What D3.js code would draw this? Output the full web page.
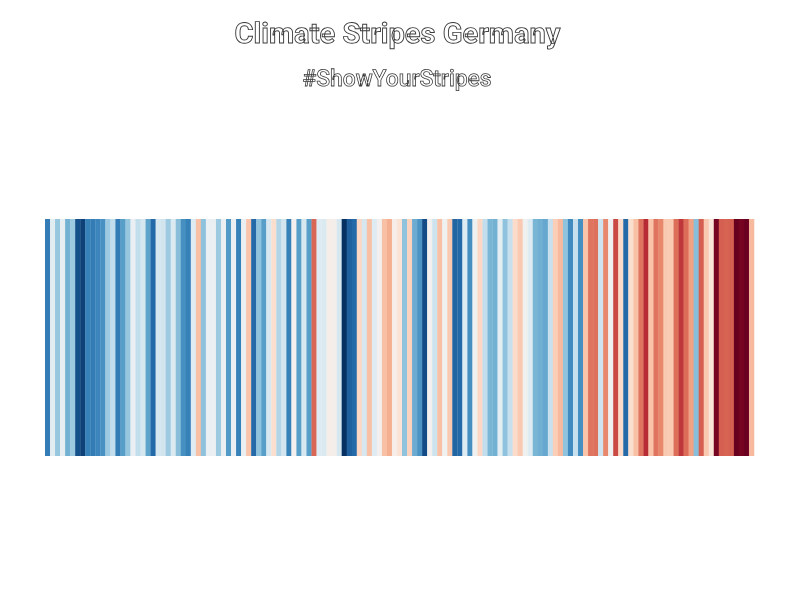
<!DOCTYPE html>
<html>
<head>
<meta charset="utf-8">
<script src="https://cdn.jsdelivr.net/npm/d3@7"></script>
<style>
  html, body { margin: 0; padding: 0; background: #ffffff; }
  svg { display: block; }
  text { text-rendering: geometricPrecision; }
</style>
</head>
<body>
<svg id="chart" width="800" height="600">
  <defs>
    <filter id="gray" x="0" y="0" width="1" height="1">
      <feComponentTransfer><feFuncA type="identity"/></feComponentTransfer>
    </filter>
  </defs>
</svg>
<script>
const titleText = "Climate Stripes Germany";
const subtitleText = "#ShowYourStripes";
const firstYear = 1881;
const lastYear = 2021;
const years = d3.range(firstYear, lastYear + 1);
// Annual mean temperature (°C), estimated from the stripe colours
const temps = [
  7.18, 8.35, 7.81, 8.40, 7.62, 7.85, 6.83, 6.72, 7.22, 7.18,
  7.26, 7.36, 7.85, 8.08, 7.18, 7.46, 7.81, 8.43, 8.08, 8.24,
  7.50, 7.03, 8.24, 8.20, 7.85, 8.28, 7.73, 7.34, 7.22, 8.32,
  9.13, 7.77, 8.43, 8.45, 7.85, 8.47, 7.42, 8.47, 7.22, 8.47,
  9.10, 7.03, 7.77, 7.46, 8.24, 8.86, 7.97, 8.20, 7.22, 8.55,
  7.46, 8.24, 7.46, 9.68, 8.32, 8.28, 8.63, 8.60, 8.24, 6.60,
  6.95, 7.03, 8.94, 8.24, 9.13, 8.32, 8.55, 9.13, 9.25, 8.63,
  8.82, 7.77, 8.98, 7.58, 7.38, 6.80, 8.55, 8.16, 9.13, 8.51,
  9.06, 6.99, 7.03, 8.32, 7.34, 8.51, 8.94, 8.08, 7.65, 7.62,
  8.36, 7.77, 8.12, 8.90, 9.06, 8.51, 8.32, 7.65, 7.61, 7.54,
  8.12, 9.02, 9.17, 7.77, 7.30, 8.12, 7.34, 9.10, 9.60, 9.62,
  8.16, 9.49, 8.51, 9.84, 8.90, 7.03, 8.86, 9.13, 9.60, 10.03,
  9.10, 9.60, 9.49, 9.06, 9.06, 9.64, 9.95, 9.64, 9.33, 7.73,
  9.72, 9.06, 8.78, 10.42, 9.72, 9.70, 9.72, 10.50, 10.42, 10.48,
  9.17
];

const data = years.map((y, i) => ({ year: y, temp: temps[i] }));

const svg = d3.select("#chart");
svg.insert("rect", "defs").attr("width", 800).attr("height", 600).attr("fill", "#ffffff");

const x = d3.scaleBand().domain(years).range([45, 754]).padding(0);
const y = d3.scaleLinear().domain([0, 1]).range([456, 219]);
const color = d3.scaleSequential(d3.interpolateRdBu)
  .domain([d3.max(temps), d3.min(temps)]);

svg.append("g")
  .selectAll("rect")
  .data(data)
  .join("rect")
  .attr("x", d => x(d.year))
  .attr("y", y(1))
  .attr("width", x.bandwidth() + 0.3)
  .attr("height", y(0) - y(1))
  .attr("fill", d => color(d.temp));

function fitText(sel, width) {
  sel.attr("textLength", width).attr("lengthAdjust", "spacingAndGlyphs");
}

const textGroup = svg.append("g").attr("filter", "url(#gray)");

const title = textGroup.append("text")
  .attr("x", 397.5)
  .attr("y", 43)
  .attr("text-anchor", "middle")
  .attr("font-family", "Roboto, 'Liberation Sans Narrow', sans-serif")
  .attr("font-weight", "bold")
  .attr("font-size", 28.5)
  .attr("fill", "#ffffff")
  .attr("stroke", "#3a3a3a")
  .attr("stroke-width", 0.9)
  .text(titleText);
fitText(title, 326);

const subtitle = textGroup.append("text")
  .attr("x", 397)
  .attr("y", 86)
  .attr("text-anchor", "middle")
  .attr("font-family", "Roboto, 'Liberation Sans Narrow', sans-serif")
  .attr("font-weight", 500)
  .attr("font-size", 23)
  .attr("fill", "#ffffff")
  .attr("stroke", "#3a3a3a")
  .attr("stroke-width", 0.8)
  .text(subtitleText);
fitText(subtitle, 189);
</script>
</body>
</html>
